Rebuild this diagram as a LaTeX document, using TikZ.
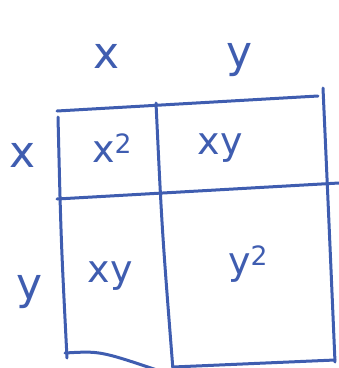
\documentclass[tikz,border=0pt]{standalone}
\usepackage{fontspec}
\setmainfont{DejaVu Sans}
\definecolor{pen}{HTML}{3F5DB0}
\begin{document}
\begin{tikzpicture}[x=1pt,y=-1pt,
  grid/.style={draw=pen,line width=3pt,line cap=round},
  lab/.style={text=pen,font=\fontsize{44}{44}\selectfont,inner sep=0pt},
  ent/.style={text=pen,font=\fontsize{38}{38}\selectfont,inner sep=0pt}]
\useasboundingbox (0,0) rectangle (339,368);
\coordinate (tl) at (57,111);
\coordinate (tr) at (318,96);
\coordinate (rt) at (323,88);
\coordinate (rb) at (335,362);
\coordinate (lt) at (58,117);
\coordinate (lb) at (67,358);
\coordinate (mt) at (156,103);
\coordinate (mb) at (173,370);
\coordinate (hl) at (57,199);
\coordinate (hr) at (339,183);
\coordinate (bl) at (65,353);
\coordinate (bm) at (157,370);
\coordinate (bm2) at (173,367);
\coordinate (br) at (335,360);
\draw[grid] (tl) -- (tr);
\draw[grid] (rt) .. controls (328,200) .. (rb);
\draw[grid] (lt) .. controls (61,240) .. (lb);
\draw[grid] (mt) .. controls (162,230) .. (mb);
\draw[grid] (hl) -- (hr);
\draw[grid] (bl) .. controls (100,351) .. (bm);
\draw[grid] (bm2) -- (br);
\node[lab] (cx) at (107,56) {x};
\node[lab] (cy) at (240,60) {y};
\node[lab] (rx) at (23,155) {x};
\node[lab] (ry) at (30,292) {y};
\node[ent] (a) at (112,148) {x\textsuperscript{2}};
\node[ent] (b) at (220,148) {xy};
\node[ent] (c) at (110,276) {xy};
\node[ent] (d) at (248,264) {y\textsuperscript{2}};
\end{tikzpicture}
\end{document}
